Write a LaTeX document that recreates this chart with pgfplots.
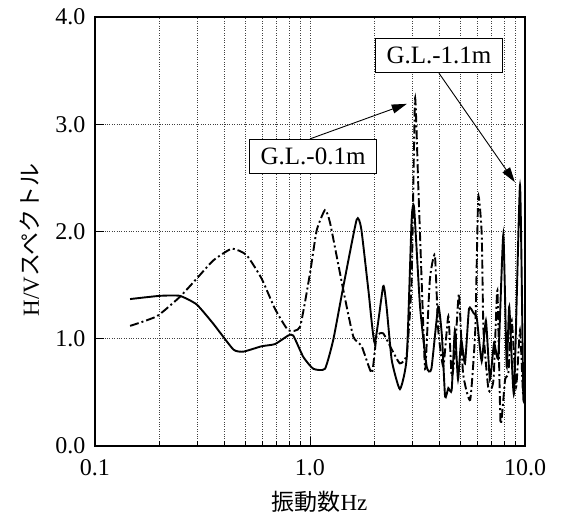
\documentclass[border=0pt]{standalone}
\usepackage{fontspec}
\setmainfont{Liberation Serif}
\newfontfamily\cjk{Noto Sans CJK JP}
\usepackage{pgfplots}
\pgfplotsset{compat=1.18}
\usetikzlibrary{arrows.meta}
\begin{document}
\begin{tikzpicture}
\begin{semilogxaxis}[
  scale only axis, width=430pt, height=429pt,
  xmin=0.1, xmax=10, ymin=0, ymax=4,
  xtick={0.1,1,10}, xticklabels={0.1,1.0,10.0},
  ytick={0,1,2,3,4}, yticklabels={0.0,1.0,2.0,3.0,4.0},
  xtick pos=bottom, ytick pos=left,
  tick align=inside,
  grid=both,
  major grid style={dotted, black!75, line width=0.7pt},
  minor grid style={dotted, black!75, line width=0.7pt},
  major tick length=9pt, minor tick length=5pt,
  tick style={black, line width=0.9pt},
  axis line style={line width=1.6pt},
  xticklabel style={font=\fontsize{24}{29}\selectfont, yshift=-10pt},
  yticklabel style={font=\fontsize{24}{29}\selectfont, xshift=-6pt},
  xlabel={{\cjk 振動数}Hz},
  ylabel={H/V{\cjk スペクトル}},
  xlabel style={font=\fontsize{23}{28}\selectfont, at={(axis description cs:0.522,0)}, anchor=center, yshift=-56pt},
  ylabel style={font=\fontsize{23}{28}\selectfont, at={(axis description cs:-0.151,0.48)}, anchor=center, rotate=0},
]
% G.L.-1.1m (solid)
\addplot[black, line width=1.9pt, smooth, tension=0.3] coordinates {
(0.1456,1.37) (0.2,1.40) (0.248,1.40) (0.297,1.32) (0.355,1.14) (0.44,0.90) (0.49,0.88)
(0.596,0.93) (0.687,0.95) (0.792,1.03) (0.836,1.03) (0.931,0.83) (1.036,0.72) (1.174,0.72)
(1.283,0.99) (1.43,1.49) (1.648,2.11) (1.73,2.03) (1.87,1.45) (2.0,0.96) (2.19,1.49)
(2.27,1.30) (2.40,0.80) (2.62,0.53) (2.82,0.83) (2.97,2.11) (3.05,2.22) (3.25,1.30)
(3.49,0.74) (3.67,0.72) (3.95,1.30) (4.11,1.02) (4.25,0.46) (4.40,0.54) (4.56,0.52)
(4.72,1.08) (4.88,0.62) (5.05,0.99) (5.26,0.77) (5.49,1.28) (5.76,1.24) (5.97,1.19)
(6.29,0.79) (6.58,1.17) (6.87,0.62) (7.18,0.96) (7.52,0.83) (7.93,1.97) (8.22,0.74)
(8.45,1.30) (8.89,0.49) (9.48,2.43) (9.82,0.46) (9.98,0.60)
};
% G.L.-0.1m (dash-dot)
\addplot[black, line width=1.9pt, smooth, tension=0.3, dash pattern=on 9pt off 3pt on 2pt off 3pt] coordinates {
(0.1456,1.12) (0.194,1.21) (0.248,1.39) (0.297,1.56) (0.355,1.73) (0.433,1.84) (0.507,1.78)
(0.596,1.56) (0.687,1.28) (0.792,1.08) (0.898,1.11) (1.0,1.61) (1.074,2.01) (1.174,2.20)
(1.24,2.08) (1.43,1.45) (1.59,1.02) (1.74,0.93) (1.94,0.68) (2.04,1.02) (2.19,1.05)
(2.40,0.90) (2.62,0.77) (2.82,0.86) (2.97,1.55) (3.08,3.24) (3.19,2.42) (3.37,1.08)
(3.44,0.72) (3.61,1.55) (3.81,1.78) (3.95,1.08) (4.17,0.74) (4.40,1.21) (4.56,0.65)
(4.72,0.86) (4.93,1.42) (5.15,0.68) (5.56,0.43) (5.87,1.08) (6.06,2.32) (6.29,1.98)
(6.41,1.08) (6.77,0.52) (7.14,0.62) (7.44,1.45) (7.70,0.21) (8.08,0.62) (8.37,0.68)
(8.68,1.17) (9.09,0.55) (9.48,1.08) (9.79,0.49) (9.97,0.68)
};
\node[draw=black, fill=white, line width=1.1pt, inner xsep=11pt, minimum height=34pt,
  font=\fontsize{25}{30}\selectfont] (n1) at (axis cs:3.98,3.64) {G.L.-1.1m};
\node[draw=black, fill=white, line width=1.1pt, inner xsep=11pt, minimum height=34pt,
  font=\fontsize{25}{30}\selectfont] (n2) at (axis cs:1.033,2.70) {G.L.-0.1m};
\draw[line width=0.9pt, -{Triangle[length=15pt,width=9pt]}] (n1.south) -- (axis cs:8.97,2.46);
\draw[line width=0.9pt, -{Triangle[length=15pt,width=9pt]}] ([xshift=-3pt]n2.north) -- (axis cs:2.82,3.19);
\coordinate (SW) at (rel axis cs:0,0);
\coordinate (NE) at (rel axis cs:1,1);
\end{semilogxaxis}
\pgfresetboundingbox
\path[use as bounding box] ([shift={(-95pt,-70pt)}]SW) rectangle ([shift={(37pt,17pt)}]NE);
\end{tikzpicture}
\end{document}
